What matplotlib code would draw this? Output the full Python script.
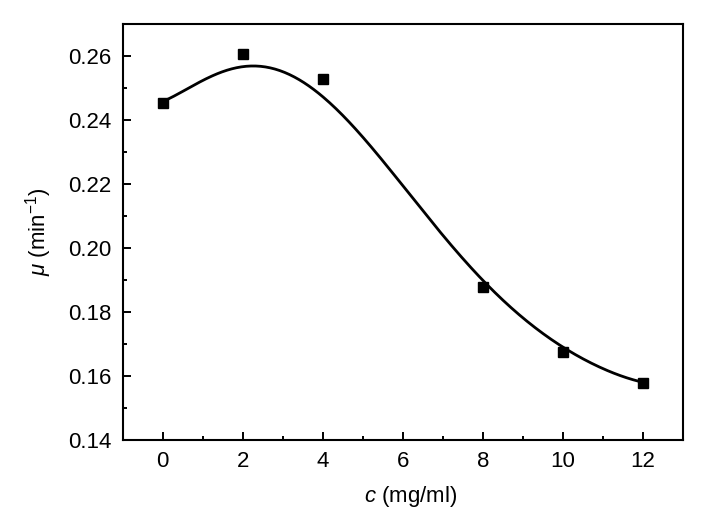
import numpy as np
import matplotlib
matplotlib.use("Agg")
import matplotlib.pyplot as plt
from matplotlib.ticker import MultipleLocator

plt.rcParams['font.family'] = ['Liberation Sans', 'DejaVu Sans']
plt.rcParams['mathtext.fontset'] = 'custom'
plt.rcParams['mathtext.it'] = 'Liberation Sans:italic'
plt.rcParams['mathtext.rm'] = 'Liberation Sans'

# measured points
conc = [0, 2, 4, 8, 10, 12]
mu = [0.2454, 0.2606, 0.2527, 0.1877, 0.1676, 0.1577]

# fitted curve
fit_c = [0, 0.5, 1, 1.5, 2, 2.5, 3, 3.5, 4, 4.5, 5, 5.5, 6,
         6.5, 7, 7.5, 8, 8.5, 9, 9.5, 10, 10.5, 11, 11.5, 12]
fit_mu = [0.2456, 0.2494, 0.2522, 0.2546, 0.2564, 0.2569, 0.2553, 0.2525,
          0.2476, 0.2410, 0.2343, 0.2265, 0.2195, 0.2113, 0.2048, 0.1978,
          0.1900, 0.1832, 0.1775, 0.1733, 0.1692, 0.1655, 0.1624, 0.1600,
          0.1579]

x_ticks = [0, 2, 4, 6, 8, 10, 12]
y_ticks = [0.14, 0.16, 0.18, 0.20, 0.22, 0.24, 0.26]

fig = plt.figure(figsize=(7.24, 5.09), dpi=100)
ax = fig.add_axes([0.1695, 0.1356, 0.7735, 0.8174])

coef = np.polyfit(fit_c, fit_mu, 6)
xs = np.linspace(min(fit_c), max(fit_c), 300)
ax.plot(xs, np.polyval(coef, xs), color='black', lw=2.0)
ax.plot(conc, mu, 's', color='black', ms=6.5)

ax.set_xlim(-1, 13)
ax.set_ylim(0.14, 0.27)
ax.set_xticks(x_ticks)
ax.set_yticks(y_ticks)
ax.set_yticklabels([f"{v:.2f}" for v in y_ticks])
ax.xaxis.set_minor_locator(MultipleLocator(1))
ax.yaxis.set_minor_locator(MultipleLocator(0.01))
ax.tick_params(which='both', direction='in', top=False, right=False, labelsize=16, width=1.4)
ax.tick_params(which='major', length=5.5, pad=8)
ax.tick_params(which='minor', length=3)
for s in ax.spines.values():
    s.set_linewidth(1.5)

ax.set_xlabel(r'$c$ (mg/ml)', fontsize=16, labelpad=8)
ax.xaxis.set_label_coords(0.515, -0.105)
ax.set_ylabel(r'$\mu$ (min$^{-1}$)', fontsize=16, labelpad=10)

fig.savefig('out.png', dpi=100)
